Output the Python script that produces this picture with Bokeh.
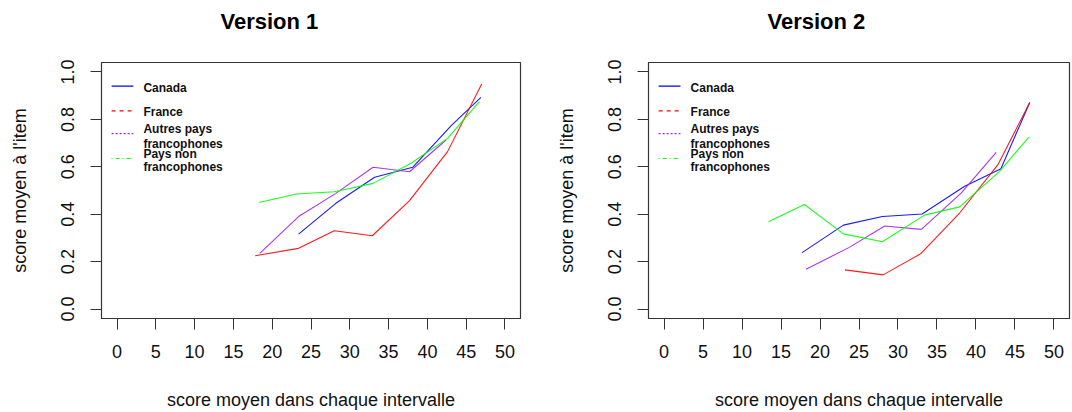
from bokeh.plotting import figure
from bokeh.layouts import row
from bokeh.models import FixedTicker, Range1d
from bokeh.core.properties import value
from bokeh.embed import file_html
from bokeh.resources import INLINE

titles = ["Version 1", "Version 2"]
x_ticks = [0, 5, 10, 15, 20, 25, 30, 35, 40, 45, 50]
y_ticks = [0.0, 0.2, 0.4, 0.6, 0.8, 1.0]
x_label = "score moyen dans chaque intervalle"
y_label = "score moyen à l'item"

series_names = ["Canada", "France", "Autres pays\nfrancophones", "Pays non\nfrancophones"]
series_colors = ["#0000FF", "#FF0000", "#A020F0", "#00FF00"]
legend_dashes = ["solid", "4 4", "2 2", "1 3 4 3"]

# Version 1
canada1_x = [23.4, 28.2, 33.2, 38.1, 43.1, 46.9]
canada1_y = [0.316, 0.446, 0.556, 0.598, 0.775, 0.893]
france1_x = [17.8, 23.4, 28.0, 32.9, 37.7, 42.6, 47.0]
france1_y = [0.225, 0.256, 0.330, 0.309, 0.457, 0.664, 0.949]
autres1_x = [18.4, 23.4, 28.2, 33.0, 37.7, 42.4]
autres1_y = [0.235, 0.390, 0.488, 0.598, 0.579, 0.713]
pays1_x = [18.3, 23.1, 28.0, 33.0, 37.9, 42.6, 46.7]
pays1_y = [0.449, 0.485, 0.495, 0.530, 0.615, 0.720, 0.875]

# Version 2
canada2_x = [17.7, 23.0, 28.0, 33.1, 38.5, 43.2, 46.9]
canada2_y = [0.238, 0.354, 0.390, 0.401, 0.517, 0.592, 0.871]
france2_x = [23.2, 28.1, 32.9, 37.9, 42.8, 46.9]
france2_y = [0.165, 0.144, 0.233, 0.405, 0.608, 0.871]
autres2_x = [18.2, 23.7, 28.3, 33.0, 38.1, 42.6]
autres2_y = [0.168, 0.259, 0.350, 0.336, 0.489, 0.661]
pays2_x = [13.4, 18.0, 23.0, 28.0, 33.4, 37.9, 43.0, 46.8]
pays2_y = [0.368, 0.441, 0.317, 0.284, 0.396, 0.431, 0.580, 0.725]

panels = [
    [(canada1_x, canada1_y), (france1_x, france1_y), (autres1_x, autres1_y), (pays1_x, pays1_y)],
    [(canada2_x, canada2_y), (france2_x, france2_y), (autres2_x, autres2_y), (pays2_x, pays2_y)],
]

# legend layout (data coords of the panel)
leg_x0, leg_x1, leg_tx = -0.7, 2.1, 3.4
leg_line_y = [0.940, 0.836, 0.740, 0.635]
leg_text_y = [[0.933], [0.832], [0.758, 0.698], [0.656, 0.598]]

def make_panel(i, width, bl, br):
    p = figure(width=width, height=412, output_backend="svg", toolbar_location=None,
               x_range=Range1d(-2, 52), y_range=Range1d(-0.04, 1.04),
               min_border_left=bl, min_border_right=br, min_border_top=62, min_border_bottom=93,
               title=titles[i] + "\n")
    p.title.text_font = "Liberation Sans"
    p.title.text_font_size = "22px"
    p.title.text_font_style = "bold"
    p.title.text_color = "#000000"
    p.title.align = "left"
    p.title.offset = 119
    p.title.vertical_align = "top"
    p.title.standoff = 4
    p.xgrid.visible = False
    p.ygrid.visible = False
    p.outline_line_color = "#333333"
    p.outline_line_width = 1.2
    p.background_fill_color = "white"
    p.border_fill_color = "white"
    for ax in (p.xaxis[0], p.yaxis[0]):
        ax.axis_line_color = "#333333"
        ax.major_tick_line_color = "#333333"
        ax.major_tick_in = 0
        ax.major_tick_out = 11
        ax.minor_tick_line_color = None
        ax.major_label_text_font = "Liberation Sans"
        ax.major_label_text_font_size = "18px"
        ax.major_label_text_color = "#111111"
        ax.axis_label_text_font = "Liberation Sans"
        ax.axis_label_text_font_size = "18px"
        ax.axis_label_text_font_style = "normal"
        ax.axis_label_text_color = "#111111"
    p.xaxis[0].ticker = FixedTicker(ticks=x_ticks)
    p.yaxis[0].ticker = FixedTicker(ticks=y_ticks)
    p.yaxis[0].major_label_overrides = {t: f"{t:.1f}" for t in y_ticks}
    p.yaxis[0].major_label_orientation = "vertical"
    p.xaxis[0].major_label_standoff = 15
    p.yaxis[0].major_label_standoff = 16
    p.xaxis[0].axis_label = x_label
    p.yaxis[0].axis_label = y_label
    p.xaxis[0].axis_label_standoff = 29
    p.yaxis[0].axis_label_standoff = 29

    for (xs, ys), c in zip(panels[i], series_colors):
        p.line(xs, ys, line_color=c, line_width=1.1, line_alpha=0.9)

    for k, (name, c, d) in enumerate(zip(series_names, series_colors, legend_dashes)):
        p.line([leg_x0, leg_x1], [leg_line_y[k], leg_line_y[k]], line_color=c,
               line_width=1.2, line_dash=d)
        parts = name.split("\n")
        p.text([leg_tx] * len(parts), leg_text_y[k], text=parts,
               text_font=value("Liberation Sans"), text_font_size="12px",
               text_font_style="bold", text_baseline="middle", text_align="left",
               text_color="#111111")
    return p

p1 = make_panel(0, 540, 101, 20)
p2 = make_panel(1, 532, 108, 3)
layout = row(p1, p2, spacing=0)
open("out.html", "w").write(file_html(layout, INLINE))
